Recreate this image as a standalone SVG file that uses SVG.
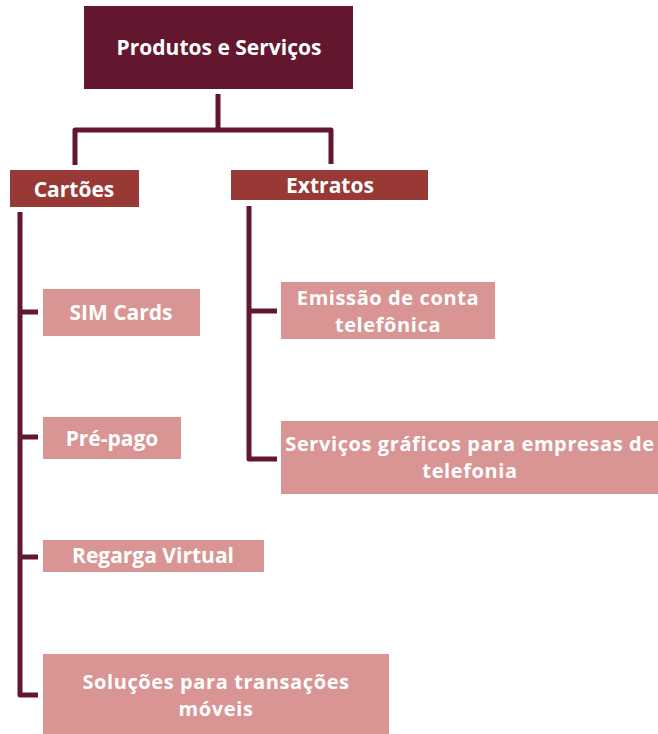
<svg xmlns="http://www.w3.org/2000/svg" width="658" height="734" viewBox="0 0 658 734">
<style>
.root{fill:#62172e}
.mid{fill:#983936}
.leaf{fill:#d99594}
.t{font-family:"Open Sans","Noto Sans",sans-serif;font-weight:700;fill:#ffffff;text-anchor:middle;font-size:21px}
.t2{font-size:20px;letter-spacing:0.6px}
.l{fill:none;stroke:#62172e;stroke-width:5;stroke-linejoin:round;stroke-linecap:butt}
</style>
<rect width="658" height="734" fill="#ffffff"/>
<g id="connectors">
<path class="l" d="M218 94 V130 M75 165 V130 H331 V164"/>
<path class="l" d="M20 212 V695 H38 M20 312 H38 M20 437 H38 M20 557 H38"/>
<path class="l" d="M249 206 V459 H277 M249 311 H277"/>
</g>
<g id="n-root">
<rect class="root" x="84" y="6" width="269" height="83"/>
<text class="t" x="219" y="55">Produtos e Serviços</text>
</g>
<g id="n-cartoes">
<rect class="mid" x="10" y="170" width="129" height="37"/>
<text class="t" x="74" y="197">Cartões</text>
</g>
<g id="n-extratos">
<rect class="mid" x="231" y="170" width="197" height="30"/>
<text class="t" x="330" y="193">Extratos</text>
</g>
<g id="n-sim">
<rect class="leaf" x="43" y="289" width="157" height="47"/>
<text class="t" x="121" y="320">SIM Cards</text>
</g>
<g id="n-prepago">
<rect class="leaf" x="43" y="417" width="138" height="42"/>
<text class="t" x="112" y="446">Pré-pago</text>
</g>
<g id="n-regarga">
<rect class="leaf" x="43" y="540" width="221" height="32"/>
<text class="t" x="153" y="563">Regarga Virtual</text>
</g>
<g id="n-solucoes">
<rect class="leaf" x="43" y="654" width="346" height="80"/>
<text class="t t2" x="216" y="689">Soluções para transações</text>
<text class="t t2" x="216" y="716">móveis</text>
</g>
<g id="n-emissao">
<rect class="leaf" x="281" y="282" width="214" height="57"/>
<text class="t t2" x="388" y="305">Emissão de conta</text>
<text class="t t2" x="388" y="332">telefônica</text>
</g>
<g id="n-servicos">
<rect class="leaf" x="281" y="421" width="377" height="73"/>
<text class="t t2" x="470" y="451">Serviços gráficos para empresas de</text>
<text class="t t2" x="470" y="478">telefonia</text>
</g>
</svg>
